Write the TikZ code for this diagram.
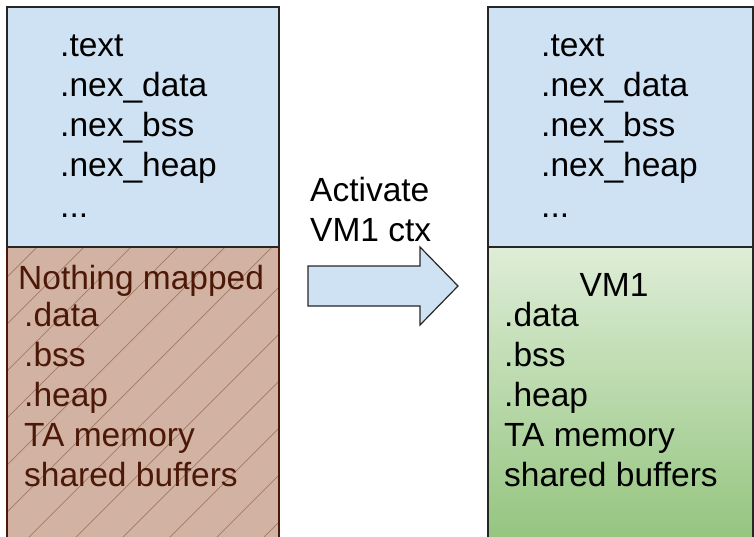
\documentclass[tikz,border=0pt]{standalone}
\usepackage{fontspec}
\setmainfont{Liberation Sans}
\definecolor{segblue}{RGB}{207,226,243}
\definecolor{segbrown}{RGB}{210,178,163}
\definecolor{hatchbrown}{RGB}{160,122,102}
\definecolor{labelbrown}{RGB}{76,24,8}
\definecolor{vmgreenlight}{RGB}{222,237,215}
\definecolor{vmgreendark}{RGB}{147,196,125}
\newcommand\secdots{...}
\tikzset{
  seg/.style={draw=black!85, line width=1.2pt},
  lbl/.style={anchor=base west, inner sep=0pt, font=\fontsize{33.5}{40}\selectfont},
}

\begin{document}
\begin{tikzpicture}[x=1pt,y=-1pt]
\clip (0,0) rectangle (754,536);
% before: nothing mapped below the nexus part
\fill[segbrown] (7,247) rectangle (279,545);
\begin{scope}
\clip (7,247) rectangle (279,545);
\foreach \s in {-308,-261,...,303}
  \draw[hatchbrown, line width=0.7pt] (\s,545) -- (\s+300,245);
\end{scope}
\draw[seg, draw=labelbrown] (7,247) rectangle (279,545);
\draw[seg, fill=segblue] (7,7) rectangle (279,247);
% after: VM1 mapped
\shade[top color=vmgreenlight, bottom color=vmgreendark] (488,247) rectangle (754,545);
\draw[seg, fill=segblue] (488,7) rectangle (753,247);
\draw[seg] (488,247) rectangle (753,545);
% nexus sections, both sides
\foreach \name/\x in {lnex/60, rnex/541}
  \foreach \sec [count=\i] in {.text, .nex\_data, .nex\_bss, .nex\_heap, \secdots}
    \node[lbl] (\name-\i) at (\x,{16+40.2*\i}) {\sec};
% left lower part
\node[lbl, text=labelbrown] (empty) at (18,289.5) {Nothing mapped};
\foreach \sec [count=\i] in {.data, .bss, .heap, TA memory, shared buffers}
  \node[lbl, text=labelbrown] (lvm-\i) at (24,{286+40*\i}) {\sec};
% right lower part
\node[lbl, anchor=base] (vm) at (614,296) {VM1};
\foreach \sec [count=\i] in {.data, .bss, .heap, TA memory, shared buffers}
  \node[lbl] (rvm-\i) at (504,{286+40*\i}) {\sec};
% switch arrow
\coordinate (tail) at (308,286);
\draw[seg, fill=segblue] (tail) ++(0,-20) -- ++(112,0) -- ++(0,-19) -- ++(38,39)
  -- ++(-38,39) -- ++(0,-19) -- ++(-112,0) -- cycle;
\node[lbl, align=left, anchor=south west] (act) at (310,242) {Activate\\VM1 ctx};
\end{tikzpicture}
\end{document}
